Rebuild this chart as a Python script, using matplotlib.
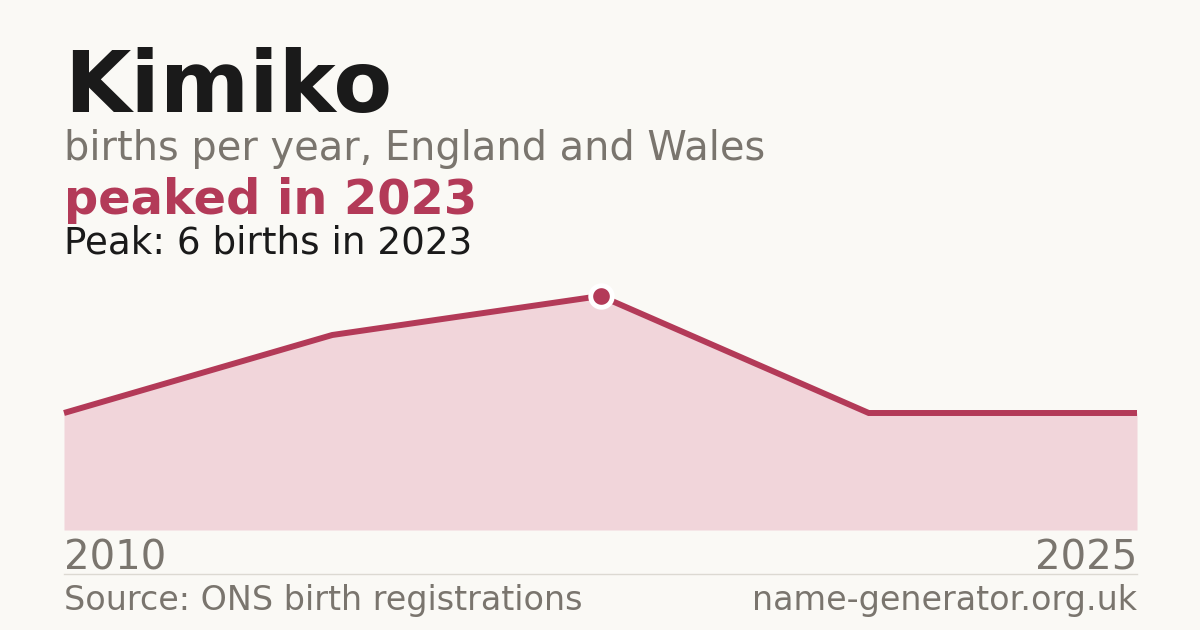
import matplotlib
matplotlib.use("Agg")
import matplotlib.pyplot as plt
import numpy as np

# data (index-spaced points, only first/last year labelled)
years = [2010, 2019, 2023, 2024, 2025]
births = [3, 5, 6, 3, 3]
peak_year = 2023

name = "Kimiko"
subtitle = "births per year, England and Wales"
headline = "peaked in %d" % peak_year
peak_note = "Peak: %d births in %d" % (max(births), peak_year)
source = "Source: ONS birth registrations"
site = "name-generator.org.uk"

bg = "#faf9f5"
red = "#b33a58"
fill = "#f1d5da"
grey = "#7a756e"
dark = "#1a1a1a"

W, H = 1200, 630
plt.rcParams['font.family'] = ['DejaVu Sans']

fig = plt.figure(figsize=(W / 100, H / 100), dpi=100, facecolor=bg)

def fy(px):
    return 1 - px / H

fig.text(64 / W, fy(112), name, fontsize=61.7, fontweight='bold', color=dark, va='baseline')
fig.text(64 / W, fy(160), subtitle, fontsize=28.7, color=grey, va='baseline')
fig.text(64 / W, fy(214), headline, fontsize=34.5, fontweight='bold', color=red, va='baseline')
fig.text(64 / W, fy(254), peak_note, fontsize=26.8, color=dark, va='baseline')

ax = fig.add_axes([64 / W, fy(530), (1137 - 64) / W, (530 - 296) / H])
ax.set_facecolor(bg)
x = np.arange(len(years))
ax.fill_between(x, births, 0, color=fill, lw=0)
ax.plot(x, births, color=red, lw=4.3, solid_joinstyle='miter', solid_capstyle='butt', clip_on=False)
pi = years.index(peak_year)
ax.plot(x[pi], births[pi], 'o', ms=15.5, mfc=red, mec='white', mew=3.5, clip_on=False, zorder=5)
ax.set_xlim(x[0], x[-1])
ax.set_ylim(0, max(births))
ax.axis('off')

fig.text(64 / W, fy(570), str(years[0]), fontsize=29, color=grey, va='baseline')
fig.text(1137 / W, fy(570), str(years[-1]), fontsize=29, color=grey, va='baseline', ha='right')

fig.add_artist(plt.Line2D([64 / W, 1137 / W], [fy(574), fy(574)], color='#dcd9d2', lw=1))

fig.text(64 / W, fy(610), source, fontsize=24, color=grey, va='baseline')
fig.text(1137 / W, fy(610), site, fontsize=24, color=grey, va='baseline', ha='right')

fig.savefig("out.png", dpi=100, facecolor=bg)
